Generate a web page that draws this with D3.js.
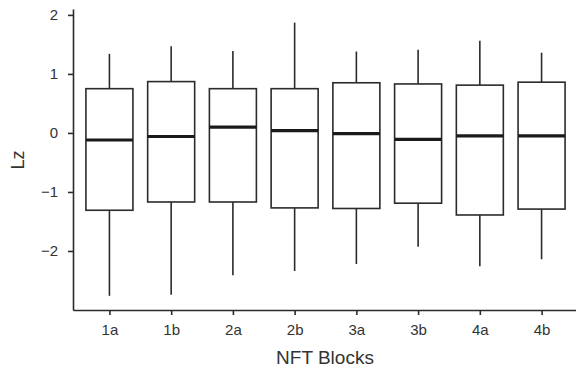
<!DOCTYPE html>
<html>
<head>
<meta charset="utf-8">
<script src="https://cdn.jsdelivr.net/npm/d3@7"></script>
<style>
  body { margin: 0; background: #fff; }
  text { font-family: "Liberation Sans", Arial, sans-serif; fill: #333; }
</style>
</head>
<body>
<div class="chart"></div>
<script>
// Box plot values
var blocks = ["1a", "1b", "2a", "2b", "3a", "3b", "4a", "4b"];
var whiskerHigh = [1.34, 1.47, 1.39, 1.87, 1.38, 1.41, 1.56, 1.36];
var boxHigh = [0.75, 0.87, 0.75, 0.75, 0.85, 0.83, 0.81, 0.86];
var medians = [-0.12, -0.06, 0.10, 0.04, -0.01, -0.11, -0.05, -0.05];
var boxLow = [-1.31, -1.17, -1.17, -1.27, -1.28, -1.19, -1.39, -1.29];
var whiskerLow = [-2.76, -2.74, -2.41, -2.34, -2.22, -1.93, -2.26, -2.14];
var yTicks = [-2, -1, 0, 1, 2];

var svgWidth = 576;
var svgHeight = 370;

var svg = d3.select(".chart")
  .append("svg")
  .attr("width", svgWidth)
  .attr("height", svgHeight);

var boxData = blocks.map(function(b, i) {
  return {
    block: b,
    wHi: whiskerHigh[i],
    q3: boxHigh[i],
    med: medians[i],
    q1: boxLow[i],
    wLo: whiskerLow[i]
  };
});

// scales
var xScale = d3.scalePoint()
  .domain(blocks)
  .range([73, 578])
  .padding(0.59);

var yScale = d3.scaleLinear()
  .domain([-3, 2.1])
  .range([310, 9]);

var boxWidth = 47;
var ink = "#2b2b2b";

// axes
var leftAxis = d3.axisLeft(yScale)
  .tickValues(yTicks)
  .tickSizeInner(5)
  .tickSizeOuter(0)
  .tickPadding(10)
  .tickFormat(d => d < 0 ? "\u2212" + Math.abs(d) : d);

var bottomAxis = d3.axisBottom(xScale)
  .tickSizeInner(5)
  .tickSizeOuter(0)
  .tickPadding(9);

var yAxisG = svg.append("g")
  .attr("transform", "translate(73,0)")
  .call(leftAxis);

var xAxisG = svg.append("g")
  .attr("transform", "translate(0,310)")
  .call(bottomAxis);

[yAxisG, xAxisG].forEach(function(g) {
  g.select(".domain").attr("stroke", ink).attr("stroke-width", 1.6);
  g.selectAll(".tick line").attr("stroke", ink).attr("stroke-width", 1.6);
  g.selectAll(".tick text")
    .attr("fill", "#333")
    .style("font-size", "15px")
    .style("font-family", "'Liberation Sans', Arial, sans-serif");
});

// boxes
var boxes = svg.append("g")
  .selectAll(".box")
  .data(boxData)
  .enter()
  .append("g")
  .attr("class", "box");

boxes.append("line")
  .attr("x1", d => xScale(d.block))
  .attr("x2", d => xScale(d.block))
  .attr("y1", d => yScale(d.wHi))
  .attr("y2", d => yScale(d.q3))
  .attr("stroke", ink)
  .attr("stroke-width", 1.6);

boxes.append("line")
  .attr("x1", d => xScale(d.block))
  .attr("x2", d => xScale(d.block))
  .attr("y1", d => yScale(d.q1))
  .attr("y2", d => yScale(d.wLo))
  .attr("stroke", ink)
  .attr("stroke-width", 1.6);

boxes.append("rect")
  .attr("x", d => xScale(d.block) - boxWidth / 2)
  .attr("y", d => yScale(d.q3))
  .attr("width", boxWidth)
  .attr("height", d => yScale(d.q1) - yScale(d.q3))
  .attr("fill", "#fff")
  .attr("stroke", ink)
  .attr("stroke-width", 1.6);

boxes.append("line")
  .attr("x1", d => xScale(d.block) - boxWidth / 2)
  .attr("x2", d => xScale(d.block) + boxWidth / 2)
  .attr("y1", d => yScale(d.med))
  .attr("y2", d => yScale(d.med))
  .attr("stroke", "#1a1a1a")
  .attr("stroke-width", 3.2);

// axis titles
svg.append("text")
  .attr("transform", "translate(24,160) rotate(-90)")
  .attr("text-anchor", "middle")
  .style("font-size", "18px")
  .text("Lz");

svg.append("text")
  .attr("x", 325)
  .attr("y", 364)
  .attr("text-anchor", "middle")
  .style("font-size", "19px")
  .text("NFT Blocks");
</script>
</body>
</html>
